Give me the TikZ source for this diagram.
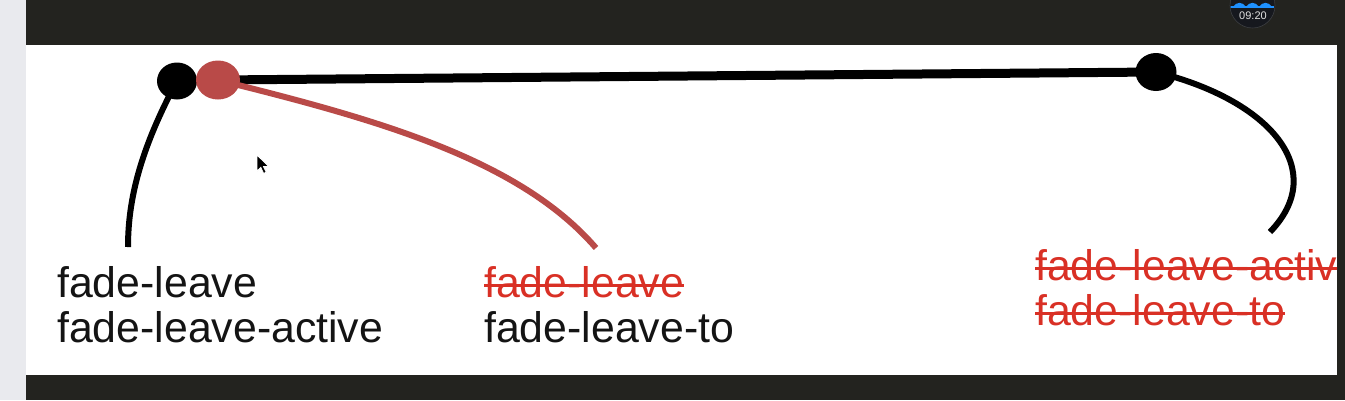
\documentclass[tikz,border=0pt]{standalone}
\usepackage{fontspec}
\setmainfont{Liberation Sans}
\usetikzlibrary{shapes.geometric}
\definecolor{barcol}{RGB}{35,35,31}
\definecolor{stripcol}{RGB}{233,234,238}
\definecolor{dotred}{RGB}{185,74,72}
\definecolor{txtred}{RGB}{217,48,37}
\definecolor{txtblack}{RGB}{20,20,20}
\definecolor{clockblue}{RGB}{30,144,255}
\definecolor{clockfill}{RGB}{22,24,30}
\pgfdeclarelayer{bg}
\pgfdeclarelayer{lines}
\pgfsetlayers{bg,lines,main}
\tikzset{
  dot/.style={ellipse, inner sep=0pt, draw=none},
  lbl/.style={anchor=base west, inner sep=0pt, font=\fontsize{42.8}{45}\selectfont},
  strikeline/.style={txtred, line width=2.8pt},
  thickbar/.style={line width=9pt, black},
  curveblack/.style={line width=6pt, black},
  curvered/.style={line width=6pt, dotred}
}
\begin{document}
\begin{tikzpicture}[x=1pt, y=-1pt]
\useasboundingbox (0,0) rectangle (1345,400);
\begin{pgfonlayer}{bg}
  \fill[stripcol] (0,0) rectangle (1345,400);
  \fill[white] (26,45) rectangle (1337,375);
  \fill[barcol] (26,0) rectangle (1345,45);
  \fill[barcol] (26,375) rectangle (1345,400);
  \fill[barcol] (1337,0) rectangle (1345,400);
\end{pgfonlayer}

% dots
\node[dot, fill=black, minimum width=40pt, minimum height=37pt] (b1) at (177,81) {};
\node[dot, fill=dotred, minimum width=44pt, minimum height=39pt] (r1) at (218,80) {};
\node[dot, fill=black, minimum width=41pt, minimum height=38pt] (b2) at (1156,72) {};

% free ends
\coordinate (e1) at (128,247);
\coordinate (e2) at (596,248);
\coordinate (e3) at (1270,232);

\begin{pgfonlayer}{lines}
  \draw[thickbar] (r1.center) -- (b2.center);
  \draw[curveblack] (b1.center) .. controls (140,150) and (128,200) .. (e1);
  \draw[curvered] (r1.center) .. controls (380,120) and (520,160) .. (e2);
  \draw[curveblack] (b2.center) .. controls (1270,100) and (1330,170) .. (e3);
\end{pgfonlayer}

% labels left
\node[lbl, text=txtblack] (t1) at (57,297) {fade-leave};
\node[lbl, text=txtblack] (t2) at (57,342) {fade-leave-active};

% labels middle
\node[lbl, text=txtred] (t3) at (484,297) {fade-leave};
\draw[strikeline] ([yshift=11.5pt]t3.base west) -- ([yshift=11.5pt]t3.base east);
\node[lbl, text=txtblack] (t4) at (484,342) {fade-leave-to};

% labels right (clipped by the frame)
\begin{scope}
  \clip (26,45) rectangle (1337,375);
  \node[lbl, text=txtred] (t5) at (1035,280) {fade-leave-active};
  \draw[strikeline] ([yshift=11.5pt]t5.base west) -- ([yshift=11.5pt]t5.base east);
  \node[lbl, text=txtred] (t6) at (1035,325) {fade-leave-to};
  \draw[strikeline] ([yshift=11.5pt]t6.base west) -- ([yshift=11.5pt]t6.base east);
\end{scope}

% mouse pointer
\fill[black, draw=white, line width=0.8pt] (257,155) -- ++(0,16) -- ++(3.8,-3.6) -- ++(2.8,6) -- ++(2.6,-1.2) -- ++(-2.8,-5.8) -- ++(5.2,0) -- cycle;

% clock badge
\node[circle, fill=clockfill, draw={rgb,255:red,60;green,62;blue,66}, line width=0.6pt, minimum size=45pt, inner sep=0pt] (clock) at (1252.5,5.5) {};
\begin{scope}
  \clip (1252.5,5.5) circle (22pt);
  \foreach \i in {0,1,2} {
    \fill[clockblue] (1233+13*\i,7) .. controls (1236+13*\i,1.5) and (1243+13*\i,1.5) .. (1246+13*\i,7) -- cycle;
  }
  \fill[clockblue] (1230,6) rectangle (1275,7.5);
\end{scope}
\node[font=\fontsize{11}{11}\selectfont, text={rgb,255:red,225;green,225;blue,225}, inner sep=0pt] (clocktxt) at (1253,15.5) {09:20};
\end{tikzpicture}
\end{document}
